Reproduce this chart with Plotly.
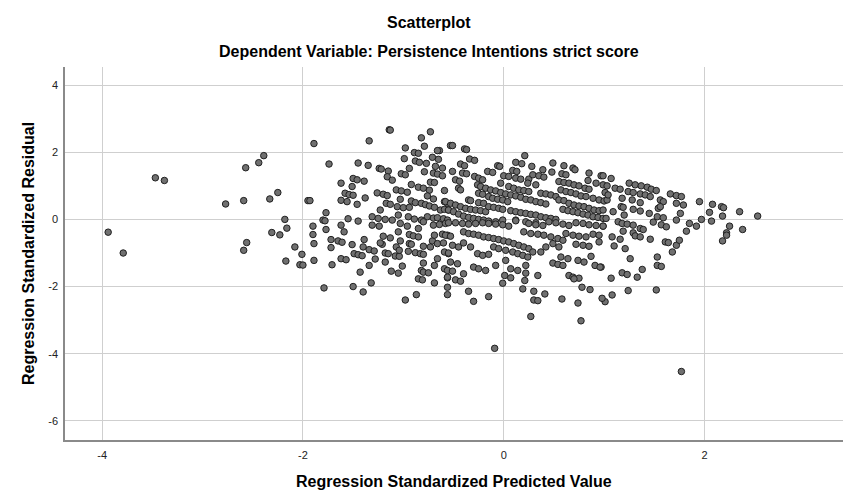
import plotly.graph_objects as go

# Regression Standardized Predicted Value (x) and Regression Standardized Residual (y)
predicted = [
    -3.94, -3.79, -3.47, -3.38, -2.77, -2.59, -2.57, -2.44, -2.39, -2.33, -2.25, -1.95, -2.18, -2.31, -2.23, -2.16, -2.56, -2.59, -2.08, -2.01, -2.17, -2.03, -2.00,
    -1.89, -1.34, -1.14, -1.13, -0.82, -0.73, -0.53, -0.98, -0.79, -0.89, -0.85, -0.99, -1.74, -1.45, -1.35, -0.88, -0.84, -0.77, -0.71, -0.65, -0.64, -0.66,
    -0.68, -0.61, -1.24, -1.22, -1.15, -1.02, -0.98, -0.94, -0.79, -0.70, -0.66, -0.61, -1.16, -1.11, -1.62, -1.50, -1.46, -1.39, -1.51, -0.92, -0.85, -0.80,
    -0.73, -0.69, -0.74, -0.59, -1.07, -1.02, -0.96, -1.26, -1.20, -1.16, -1.58, -1.54, -1.50, -1.93, -1.62, -1.56, -1.46, -1.38, -1.03, -0.92, -0.88, -0.82,
    -0.76, -0.70, -0.78, -0.74, -0.69, -0.59, -0.56, -1.17, -1.13, -1.06, -1.00, -0.94, -1.23, -1.77, -1.80, -1.78, -1.55, -1.45, -1.31, -1.25, -1.18, -1.11,
    -1.05, -0.95, -0.89, -0.82, -0.76, -0.70, -0.63, -0.59, -0.55, -0.66, -0.60, -0.56,
    -1.90, -1.90, -1.77, -1.89, -1.89, -1.71, -1.72, -1.72, -1.65, -1.61, -1.62, -1.59, -1.51, -1.62, -1.57, -1.49, -1.45, -1.41, -1.40, -1.39, -1.34, -1.29,
    -1.28, -1.34, -1.43, -1.20, -1.13, -1.21, -1.23, -1.18, -1.15, -1.08, -1.04, -1.18, -1.12, -1.05, -1.01, -1.05, -1.07, -1.03, -1.04, -0.94, -0.90, -0.85,
    -0.85, -0.94, -0.92, -0.95, -0.88, -0.83, -0.80, -0.80, -0.73, -0.80, -0.82, -0.80, -0.75, -0.85, -0.81, -0.69, -0.69, -0.66, -0.71, -0.66, -0.60, -0.69,
    -0.61, -0.56, -0.70, -0.64, -0.58, -0.59, -0.55, -0.59, -0.56, -0.56, -0.56, -0.56, -1.79, -1.50, -1.40, -1.32, -0.98, -0.87, -1.31, -1.24, -1.03, -0.96, -0.80,
    -0.51, -0.39, -0.37, -0.34, -0.29, -0.43, -0.39, -0.51, -0.41, -0.37, -0.48, -0.44, -0.45, -0.43, -0.29, -0.25, -0.21, -0.16, -0.11, -0.06, -0.04, 0.21,
    0.12, 0.18, 0.28, 0.09, 0.13, 0.00, 0.05, 0.12, 0.17, -0.03, 0.25, 0.29, 0.35, 0.40, 0.39, 0.49, 0.48, 0.24, 0.32, 0.60, 0.69, 0.71, 0.58, 0.62,
    0.55, 0.60, 0.65, 0.70, 0.75, 0.81, 0.85, 0.92, 0.97, 0.85, 0.84, 0.57, 0.62, 0.67, 0.72, 0.77, 0.82, 0.89, 0.95, 1.00,
    -0.26, -0.23, -0.18, -0.13, -0.08, -0.03, 0.02, 0.07, 0.12, 0.17, 0.22, 0.27, 0.32, 0.37, 0.42, 0.05, 0.10, 0.15, 0.20, 0.25, 0.37, 0.42, 0.47, 0.52,
    -0.25, -0.21, -0.15, -0.11, -0.06, -0.01, 0.04, -0.35, -0.33, -0.58, -0.53, -0.48, -0.43, -0.38, -0.33, -0.28, -0.23, -0.18, -0.25, -0.20, -0.15, -0.10,
    -0.05, -0.01, 0.07, 0.12, 0.17, 0.22, 0.27, 0.32, 0.37, 0.42, 0.47, 0.52, 0.55, 0.60, 0.65, 0.70, 0.75, 0.80, 0.85, 0.90, 0.95, 0.59, 0.64, 0.69,
    0.74, 0.79, 0.84, 0.89, 0.94, 0.99, -0.55, -0.50, -0.45, -0.40, -0.35, -0.30, -0.25, -0.20, -0.15, -0.08, -0.01, 0.12, 0.22, 0.32,
    -0.55, -0.48, -0.41, -0.35, -0.28, -0.21, -0.15, -0.08, -0.01, 0.05, 0.12, 0.25, 0.32, 0.39, 0.45, 0.52, 0.59, 0.65, 0.72, 0.79, 0.85, 0.92, 0.99,
    -0.58, -0.53, -0.40, -0.35, -0.30, -0.25, -0.20, -0.15, -0.10, -0.05, 0.00, 0.05, 0.10, 0.15, 0.20, 0.25, 0.20, 0.27, 0.34, 0.40, 0.47, 0.54, 0.59,
    0.62, 0.69, 0.75, 0.82, 0.89, 0.95, 0.72, 0.79, 0.85, 0.95, -0.51, -0.45, -0.40, -0.55, -0.33, -0.26, -0.21, -0.15, -0.10, -0.05, 0.02, 0.09, 0.14,
    0.19, 0.24, 0.29, 0.37, 0.42, 0.49, 0.55, 0.57, 0.64, 0.49, 0.54, 0.59, 0.74, 0.80, 0.87, 0.91, 0.97, -0.53, -0.46, -0.51, -0.40, -0.30, -0.25,
    -0.18, -0.08, 0.02, 0.07, 0.14, 0.22, 0.22, -0.56, -0.48, -0.43, 0.01, -0.01, 0.07, 0.21, 0.19, 0.34, 0.65, 0.69, 0.75, 0.70, 0.78, 0.86,
    -0.35, -0.30, -0.15, 0.30, 0.30, 0.34, 0.41, 0.58, 0.74,
    0.99, 1.07, 0.99, 1.03, 1.11, 1.16, 1.25, 1.31, 1.37, 1.43, 1.47, 1.52, 1.24, 1.29, 1.36, 1.41, 1.01, 1.03, 1.04, 1.18, 1.28, 1.36, 1.46, 1.56, 1.59,
    1.66, 1.72, 1.77, 1.72, 1.79, 1.95, 2.08, 2.17, 2.19, 2.35, 2.53, 2.05, 2.18, 1.17, 1.19, 1.29, 1.36, 1.45, 1.54, 1.56, 0.99, 1.09, 1.02, 0.99,
    1.20, 1.14, 1.18, 1.23, 1.29, 1.49, 1.53, 1.59, 1.57, 1.62, 1.72, 1.76, 1.85, 1.92, 1.97, 2.07, 1.82, 2.25, 2.22, 2.38, 1.19, 1.29, 1.36, 1.39,
    1.08, 1.16, 1.31, 1.36, 1.46, 1.61, 1.64, 1.72, 1.75, 1.68, 1.10, 1.21, 1.26, 0.96, 1.53, 1.53, 1.57, 1.38, 1.33, 1.18, 1.23, 1.07, 1.24, 1.52,
    1.08, 1.01, 0.98, 2.18, 2.22,
    0.27, 0.77, -0.09, 1.77,
]

residual = [
    -0.38, -1.00, 1.24, 1.16, 0.46, 0.56, 1.54, 1.69, 1.90, 0.61, 0.80, 0.56, 0.00, -0.39, -0.46, -0.26, -0.69, -0.92, -0.82, -1.04, -1.24, -1.35, -1.36,
    2.26, 2.34, 2.67, 2.66, 2.43, 2.61, 2.20, 2.13, 2.18, 1.99, 1.97, 1.81, 1.65, 1.68, 1.61, 1.74, 1.70, 1.67, 1.85, 1.79, 2.05, 2.05,
    1.58, 1.53, 1.52, 1.50, 1.44, 1.36, 1.33, 1.52, 1.42, 1.38, 1.35, 1.30, 1.27, 1.17, 1.08, 1.22, 1.18, 1.14, 0.98, 1.04, 0.96, 0.93,
    1.11, 1.10, 0.87, 0.86, 0.88, 0.85, 0.81, 0.79, 0.75, 0.71, 0.78, 0.74, 0.72, 0.56, 0.57, 0.53, 0.45, 0.64, 0.60, 0.55, 0.50, 0.48,
    0.70, 0.61, 0.44, 0.40, 0.36, 0.53, 0.48, 0.48, 0.45, 0.38, 0.35, 0.36, 0.28, 0.20, -0.02, -0.04, 0.02, -0.05, 0.08, 0.03, 0.00, -0.02,
    0.13, 0.08, 0.01, -0.02, 0.08, 0.04, 0.28, 0.30, 0.28, 0.05, 0.02, -0.02,
    -0.20, -0.45, -0.30, -0.72, -1.22, -1.35, -0.60, -0.84, -0.64, -0.68, -0.17, -0.37, -0.75, -1.17, -1.20, -1.02, -1.05, -1.08, -0.82, -0.60, -0.90, -0.94,
    -1.18, -1.37, -1.57, -0.50, -0.55, -0.74, -0.70, -1.00, -1.02, -1.09, -1.10, -1.27, -1.54, -1.60, -1.39, -0.37, -0.82, -0.64, -0.92, -0.45, -0.49, -0.52,
    -0.27, -0.72, -0.74, -0.95, -0.99, -1.02, -1.04, -0.80, -0.82, -1.30, -1.52, -1.57, -1.59, -1.77, -1.80, -1.37, -1.89, -1.17, -0.64, -0.72, -0.70, -0.47,
    -0.44, -0.47, -0.17, -0.15, -0.12, -0.97, -1.02, -1.47, -1.52, -1.74, -2.02, -2.24, -2.04, -2.00, -2.16, -1.89, -2.40, -2.24, -0.17, -0.20, -0.12, -0.20, -0.07,
    2.20, 2.10, 2.08, 1.80, 1.76, 1.65, 1.60, 1.43, 1.38, 1.36, 1.18, 1.14, 0.93, 0.88, 1.28, 1.23, 1.18, 1.43, 1.40, 1.60, 1.58, 1.90,
    1.70, 1.66, 1.58, 1.46, 1.43, 1.30, 1.28, 1.23, 1.20, 1.08, 1.20, 1.33, 1.30, 1.26, 1.48, 1.68, 1.41, 1.08, 1.03, 1.60, 1.53, 1.48, 1.36, 1.33,
    1.13, 1.10, 1.08, 1.03, 1.00, 0.93, 0.90, 1.08, 1.30, 1.38, 1.16, 0.88, 0.83, 0.80, 0.76, 0.70, 0.68, 0.63, 0.58, 0.55,
    1.03, 0.98, 0.93, 0.88, 0.85, 0.80, 0.76, 0.73, 0.70, 0.66, 0.60, 0.58, 0.53, 0.50, 0.46, 0.98, 0.93, 0.88, 0.86, 0.83, 0.78, 0.76, 0.73, 0.68,
    0.78, 0.75, 0.68, 0.63, 0.60, 0.58, 0.53, 0.58, 0.56, 0.53, 0.48, 0.43, 0.38, 0.33, 0.30, 0.28, 0.26, 0.23, 0.50, 0.48, 0.38, 0.36,
    0.33, 0.30, 0.26, 0.23, 0.20, 0.18, 0.15, 0.13, 0.08, 0.05, 0.03, 0.00, 0.58, 0.56, 0.48, 0.43, 0.40, 0.38, 0.33, 0.28, 0.26, 0.30, 0.26, 0.23,
    0.20, 0.16, 0.13, 0.08, 0.06, 0.03, 0.28, 0.23, 0.16, 0.10, 0.06, 0.03, 0.00, -0.02, -0.05, -0.07, -0.02, -0.02, -0.07, -0.10,
    -0.10, -0.10, -0.12, -0.14, -0.12, -0.10, -0.12, -0.14, -0.16, -0.20, -0.04, -0.12, -0.16, -0.18, -0.07, -0.10, -0.14, -0.18, -0.10, -0.12, -0.16, -0.18, -0.20,
    -0.47, -0.50, -0.37, -0.42, -0.44, -0.47, -0.52, -0.54, -0.57, -0.60, -0.64, -0.67, -0.72, -0.77, -0.82, -0.87, -0.37, -0.42, -0.44, -0.47, -0.52, -0.57, -0.62,
    -0.42, -0.47, -0.50, -0.52, -0.44, -0.47, -0.74, -0.77, -0.80, -0.67, -0.77, -0.82, -0.70, -1.00, -0.82, -1.02, -1.07, -1.04, -0.82, -0.87, -0.92, -0.97, -1.02,
    -1.07, -1.12, -0.97, -0.97, -0.82, -0.72, -0.82, -1.12, -1.17, -1.30, -1.34, -1.37, -1.22, -1.27, -1.10, -1.37, -1.42, -1.27, -1.32, -1.54, -1.62, -1.42, -1.47,
    -1.52, -1.37, -1.22, -1.47, -1.52, -1.37, -1.60, -1.72, -1.80, -1.84, -1.67, -1.90, -1.74, -1.82, -2.07, -1.67, -1.67, -1.72, -1.75, -1.77, -2.02, -2.09,
    -2.14, -2.44, -2.30, -2.14, -2.40, -2.42, -2.22, -2.37, -2.49,
    1.30, 1.22, 1.03, 1.00, 0.93, 0.90, 1.08, 1.03, 1.00, 0.96, 0.90, 0.86, 0.83, 0.80, 0.76, 0.73, 0.80, 0.58, 0.73, 0.63, 0.58, 0.50, 0.68, 0.58, 0.53,
    0.76, 0.71, 0.68, 0.48, 0.43, 0.53, 0.45, 0.38, 0.35, 0.23, 0.10, 0.21, 0.10, 0.38, 0.36, 0.30, 0.25, 0.18, 0.33, 0.38, 0.28, 0.23, 0.03, -0.20,
    0.13, -0.07, -0.12, -0.14, -0.17, -0.08, 0.08, 0.05, -0.16, -0.22, -0.02, 0.18, -0.12, -0.20, 0.00, -0.05, -0.35, -0.20, -0.40, -0.30, -0.35, -0.40, -0.27, -0.30,
    -0.52, -0.59, -0.49, -0.52, -0.59, -0.67, -0.69, -0.77, -0.62, -0.97, -0.79, -0.87, -1.17, -1.42, -1.12, -1.37, -1.40, -1.49, -1.72, -1.59, -1.64, -1.75, -2.12, -2.10,
    -2.25, -2.45, -2.35, -0.64, -0.47,
    -2.89, -3.02, -3.84, -4.53,
]

x_ticks = [-4, -2, 0, 2]
y_ticks = [4, 2, 0, -2, -4, -6]

title_text = "Scatterplot"
subtitle_text = "Dependent Variable: Persistence Intentions strict score"
x_title = "Regression Standardized Predicted Value"
y_title = "Regression Standardized Residual"

font_family = "Liberation Sans, Arial, sans-serif"

# The page body adds an 8px offset; size the figure to fill the rest of the window.
OFF = 8
W, H = 854 - OFF, 504 - OFF
# plot area in window pixels: left 65, right 843, top 67, bottom 440
ML, MR, MT, MB = 65 - OFF, 854 - 843, 67 - OFF, 504 - 440
PW, PH = W - ML - MR, H - MT - MB


def px_x(px):
    return (px - OFF - ML) / PW


def px_y(py):
    return 1 - (py - OFF - MT) / PH


fig = go.Figure()
fig.add_trace(go.Scatter(
    x=predicted, y=residual, mode="markers",
    marker=dict(size=6.5, color="#707070", line=dict(color="#202020", width=1)),
    hoverinfo="x+y", showlegend=False,
))

bold16 = dict(size=16, family=font_family, weight="bold", color="#000000")

fig.update_layout(
    width=W, height=H,
    margin=dict(l=ML, r=MR, t=MT, b=MB, autoexpand=False),
    paper_bgcolor="white", plot_bgcolor="white",
    font=dict(family=font_family, color="#000000"),
    annotations=[
        dict(text=title_text, x=px_x(428.5), y=px_y(23), xref="paper", yref="paper",
             xanchor="center", yanchor="middle", showarrow=False, font=bold16),
        dict(text=subtitle_text, x=px_x(428.5), y=px_y(52), xref="paper", yref="paper",
             xanchor="center", yanchor="middle", showarrow=False, font=bold16),
        dict(text=x_title, x=px_x(454), y=px_y(481), xref="paper", yref="paper",
             xanchor="center", yanchor="middle", showarrow=False, font=bold16),
        dict(text=y_title, x=px_x(28), y=px_y(254), xref="paper", yref="paper",
             xanchor="center", yanchor="middle", textangle=-90, showarrow=False, font=bold16),
    ],
)

fig.update_xaxes(
    range=[-4.37, 3.38], tickvals=x_ticks, ticktext=[str(v) for v in x_ticks],
    showgrid=True, gridcolor="#cfcfcf", gridwidth=1, zeroline=False,
    showline=True, linecolor="#8a8a8a", linewidth=1.5,
    ticks="outside", ticklen=4, tickcolor="rgba(0,0,0,0)",
    tickfont=dict(size=11, family=font_family, color="#222222"),
    automargin=False,
)
fig.update_yaxes(
    range=[-6.57, 4.54], tickvals=y_ticks, ticktext=[str(v) for v in y_ticks],
    showgrid=True, gridcolor="#cfcfcf", gridwidth=1, zeroline=False,
    showline=True, linecolor="#8a8a8a", linewidth=1.5,
    ticks="outside", ticklen=3, tickcolor="rgba(0,0,0,0)",
    tickfont=dict(size=11, family=font_family, color="#222222"),
    automargin=False,
)

fig.write_html("out.html")
